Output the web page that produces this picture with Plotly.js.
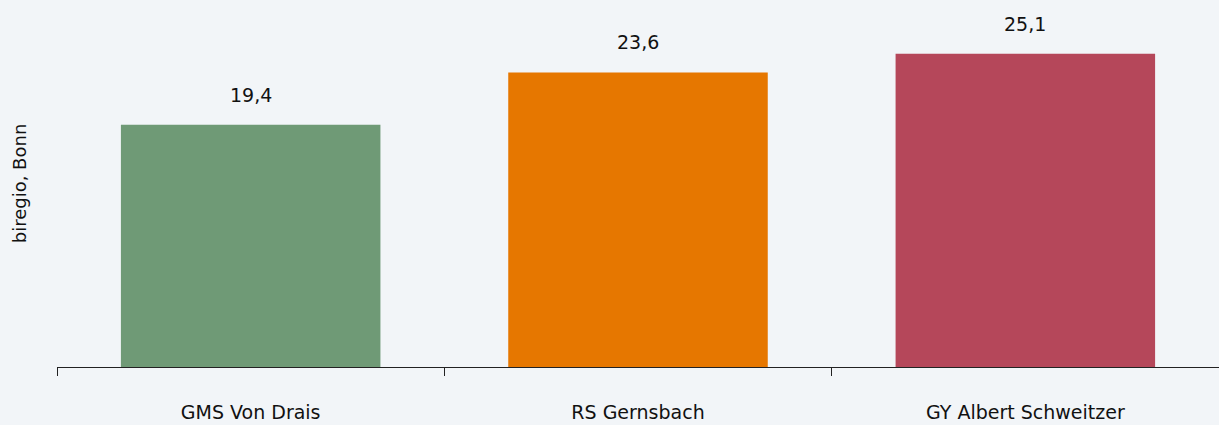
<!DOCTYPE html>
<html>
<head>
<meta charset="utf-8">
<script src="https://cdn.plot.ly/plotly-3.0.1.min.js"></script>
<style>
  html, body { margin: 0; padding: 0; background: #f2f5f8; }
  #chart { width: 1219px; height: 425px; }
</style>
</head>
<body>
<div id="chart"></div>
<script>
// Daten
const schulen = ['GMS Von Drais', 'RS Gernsbach', 'GY Albert Schweitzer'];
const werte = [19.4, 23.6, 25.1];
const farben = ['#6f9a76', '#e67700', '#b5475a'];
const beschriftung = ['19,4', '23,6', '25,1'];

const trace = {
    x: schulen,
    y: werte,
    type: 'bar',
    marker: { color: farben },
    hoverinfo: 'none'
};

// Werte über den Balken
const annotations = schulen.map((s, i) => ({
    x: s,
    y: werte[i],
    text: beschriftung[i],
    showarrow: false,
    yanchor: 'bottom',
    yshift: 17,
    font: { size: 19, color: '#111' }
}));

const layout = {
    width: 1219,
    height: 425,
    paper_bgcolor: '#f2f5f8',
    plot_bgcolor: '#f2f5f8',
    font: { family: 'DejaVu Sans, sans-serif', color: '#111' },
    margin: { l: 57, r: 0, t: 0, b: 58 },
    bargap: 0.33,
    showlegend: false,
    xaxis: {
        type: 'category',
        showline: true,
        linecolor: '#222',
        linewidth: 1,
        ticks: 'outside',
        tickson: 'boundaries',
        ticklen: 8,
        tickcolor: '#222',
        ticklabelstandoff: 28,
        tickfont: { size: 19, color: '#111' },
        showgrid: false,
        fixedrange: true
    },
    yaxis: {
        range: [0, 29.4],
        showticklabels: false,
        showgrid: false,
        zeroline: false,
        showline: false,
        ticks: '',
        title: { text: 'biregio, Bonn', font: { size: 18, color: '#111' }, standoff: 24 },
        fixedrange: true
    },
    annotations: annotations
};

Plotly.newPlot('chart', [trace], layout, { displayModeBar: false, staticPlot: true });
</script>
</body>
</html>
